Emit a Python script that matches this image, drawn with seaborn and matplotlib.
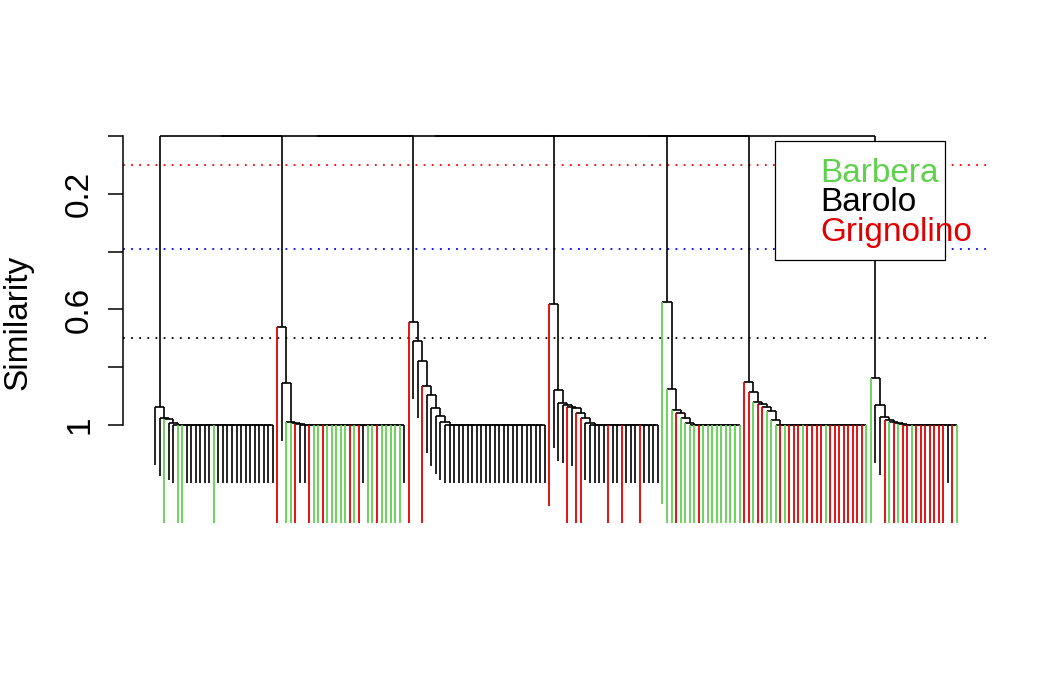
import matplotlib
matplotlib.use("Agg")
import matplotlib.pyplot as plt
from matplotlib.collections import LineCollection
from matplotlib.patches import Rectangle
import seaborn as sns
import numpy as np

# each cluster: leaves that split off one by one (similarity, class),
# then the leaves that are all joined at similarity 1
c1_chain = [(0.939, 'k'), (0.975, 'k'), (0.980, 'g'), (0.992, 'k')]
c1_flat = ['k', 'g', 'g', 'k', 'k', 'k', 'k', 'k', 'k', 'g', 'k', 'k', 'k',
           'k', 'k', 'k', 'k', 'k', 'k', 'k', 'k', 'k', 'k']
c2_chain = [(0.661, 'r'), (0.855, 'k'), (0.990, 'g'), (0.993, 'g'), (0.996, 'r')]
c2_flat = ['k', 'k', 'r', 'g', 'g', 'r', 'g', 'g', 'g', 'g', 'g', 'r', 'g',
           'r', 'k', 'g', 'g', 'r', 'g', 'g', 'g', 'g', 'g', 'k']
c3_chain = [(0.643, 'r'), (0.709, 'k'), (0.777, 'k'), (0.864, 'r'), (0.896, 'k'),
            (0.942, 'k'), (0.968, 'k'), (0.989, 'k')]
c3_flat = ['k'] * 23
c4_chain = [(0.581, 'r'), (0.879, 'k'), (0.923, 'k'), (0.931, 'k'), (0.937, 'r'),
            (0.942, 'k'), (0.957, 'r'), (0.977, 'r'), (0.992, 'k')]
c4_flat = ['k', 'k', 'k', 'k', 'r', 'k', 'k', 'r', 'k', 'k', 'k', 'r', 'k',
           'k', 'k', 'k']
c5_chain = [(0.573, 'g'), (0.876, 'g'), (0.948, 'g'), (0.957, 'r'), (0.977, 'g'),
            (0.994, 'g')]
c5_flat = ['g', 'g', 'r', 'g', 'g', 'g', 'g', 'g', 'g', 'g', 'g', 'g']
c6_chain = [(0.850, 'r'), (0.885, 'r'), (0.921, 'g'), (0.928, 'r'), (0.937, 'r'),
            (0.952, 'g'), (0.983, 'g')]
c6_flat = ['g', 'r', 'g', 'r', 'r', 'r', 'g', 'r', 'r', 'r', 'r', 'g', 'r',
           'r', 'r', 'r', 'r', 'r', 'r', 'r', 'g']
c7_chain = [(0.838, 'g'), (0.931, 'k'), (0.973, 'k'), (0.983, 'r'), (0.989, 'g'),
            (0.992, 'r'), (0.996, 'g')]
c7_flat = ['r', 'r', 'g', 'r', 'r', 'r', 'r', 'r', 'r', 'r', 'k', 'r', 'g']

clusters = [(c1_chain, c1_flat), (c2_chain, c2_flat), (c3_chain, c3_flat),
            (c4_chain, c4_flat), (c5_chain, c5_flat), (c6_chain, c6_flat),
            (c7_chain, c7_flat)]

cut_levels = [0.1, 0.39, 0.7]
cut_colors = ['red', 'blue', 'black']
classes = ['Barbera', 'Barolo', 'Grignolino']
class_codes = ['g', 'k', 'r']
palette = {'g': '#61D04F', 'k': 'black', 'r': '#E00000'}
hang = {'k': 0.2, 'g': 0.7, 'r': 0.7}


def build(chain, flat):
    node = {'leaf': flat[-1]}
    for c in flat[-2::-1]:
        node = {'h': 1.0, 'kids': [{'leaf': c}, node]}
    for h, c in chain[::-1]:
        node = {'h': h, 'kids': [{'leaf': c}, node]}
    return node


root = build(*clusters[0])
for cl in clusters[1:]:
    root = {'h': 0.0, 'kids': [root, build(*cl)]}

counter = [0]


def place(node):
    if 'leaf' in node:
        counter[0] += 1
        node['x'] = counter[0]
        return
    for k in node['kids']:
        place(k)
    node['x'] = (node['kids'][0]['x'] + node['kids'][1]['x']) / 2


place(root)

black_segs = []
col_segs = {'g': [], 'r': []}


def draw(node):
    h = node['h']
    a, b = node['kids']
    black_segs.append([(a['x'], h), (b['x'], h)])
    for k in (a, b):
        if 'leaf' in k:
            c = k['leaf']
            seg = [(k['x'], h), (k['x'], h + hang[c])]
            if c == 'k':
                black_segs.append(seg)
            else:
                col_segs[c].append(seg)
        else:
            black_segs.append([(k['x'], h), (k['x'], k['h'])])
            draw(k)


draw(root)

sns.set_theme(style="white")
plt.rcParams['font.family'] = ['Liberation Sans', 'DejaVu Sans']
plt.rcParams['text.color'] = 'black'
plt.rcParams['axes.labelcolor'] = 'black'

W, H = 1052, 677
fig = plt.figure(figsize=(W / 100, H / 100), dpi=100, facecolor='white')
ax = fig.add_axes([123 / W, 1 - 523 / H, (989 - 123) / W, (523 - 121) / H])
ax.set_facecolor('white')

for lev, c in zip(cut_levels, cut_colors):
    ax.axhline(lev, color=c, lw=1.3, ls=(0, (1, 3.5)), zorder=1)

ax.add_collection(LineCollection(black_segs, colors='black', linewidths=1.2, zorder=2))
for c, segs in col_segs.items():
    ax.add_collection(LineCollection(segs, colors=palette[c], linewidths=1.3, zorder=3))

n = counter[0]
ax.set_xlim(1 - 32 / 4.531, n + 32 / 4.531)
ax.set_ylim(1 + 98 / 289, -15 / 289)

ax.set_xticks([])
ax.set_yticks(np.arange(0, 1.01, 0.2))
ax.set_yticklabels(['', '0.2', '', '0.6', '', '1'])
ax.tick_params(axis='y', left=True, length=11, width=1.1, labelsize=24,
               labelrotation=90, pad=9, colors='black')
for lab in ax.get_yticklabels():
    lab.set_va('center')
sns.despine(ax=ax, bottom=True)
ax.spines['left'].set_bounds(0, 1)
ax.spines['left'].set_color('black')
ax.spines['left'].set_linewidth(1.1)

fig.text(18 / W, 1 - 322 / H, 'Similarity', rotation=90, ha='center', va='center',
         fontsize=24, color='black')

# legend box with coloured labels
ax.add_patch(Rectangle((775 / W, 1 - 260 / H), 170 / W, 119 / H, transform=fig.transFigure,
                       facecolor='white', edgecolor='black', lw=0.9, zorder=5,
                       clip_on=False))
for i, (name, code) in enumerate(zip(classes, class_codes)):
    fig.text(820 / W, 1 - (173 + 29.5 * i) / H, name, color=palette[code],
             fontsize=24, ha='left', va='center', zorder=6)

fig.savefig('out.png', dpi=100, facecolor='white')
